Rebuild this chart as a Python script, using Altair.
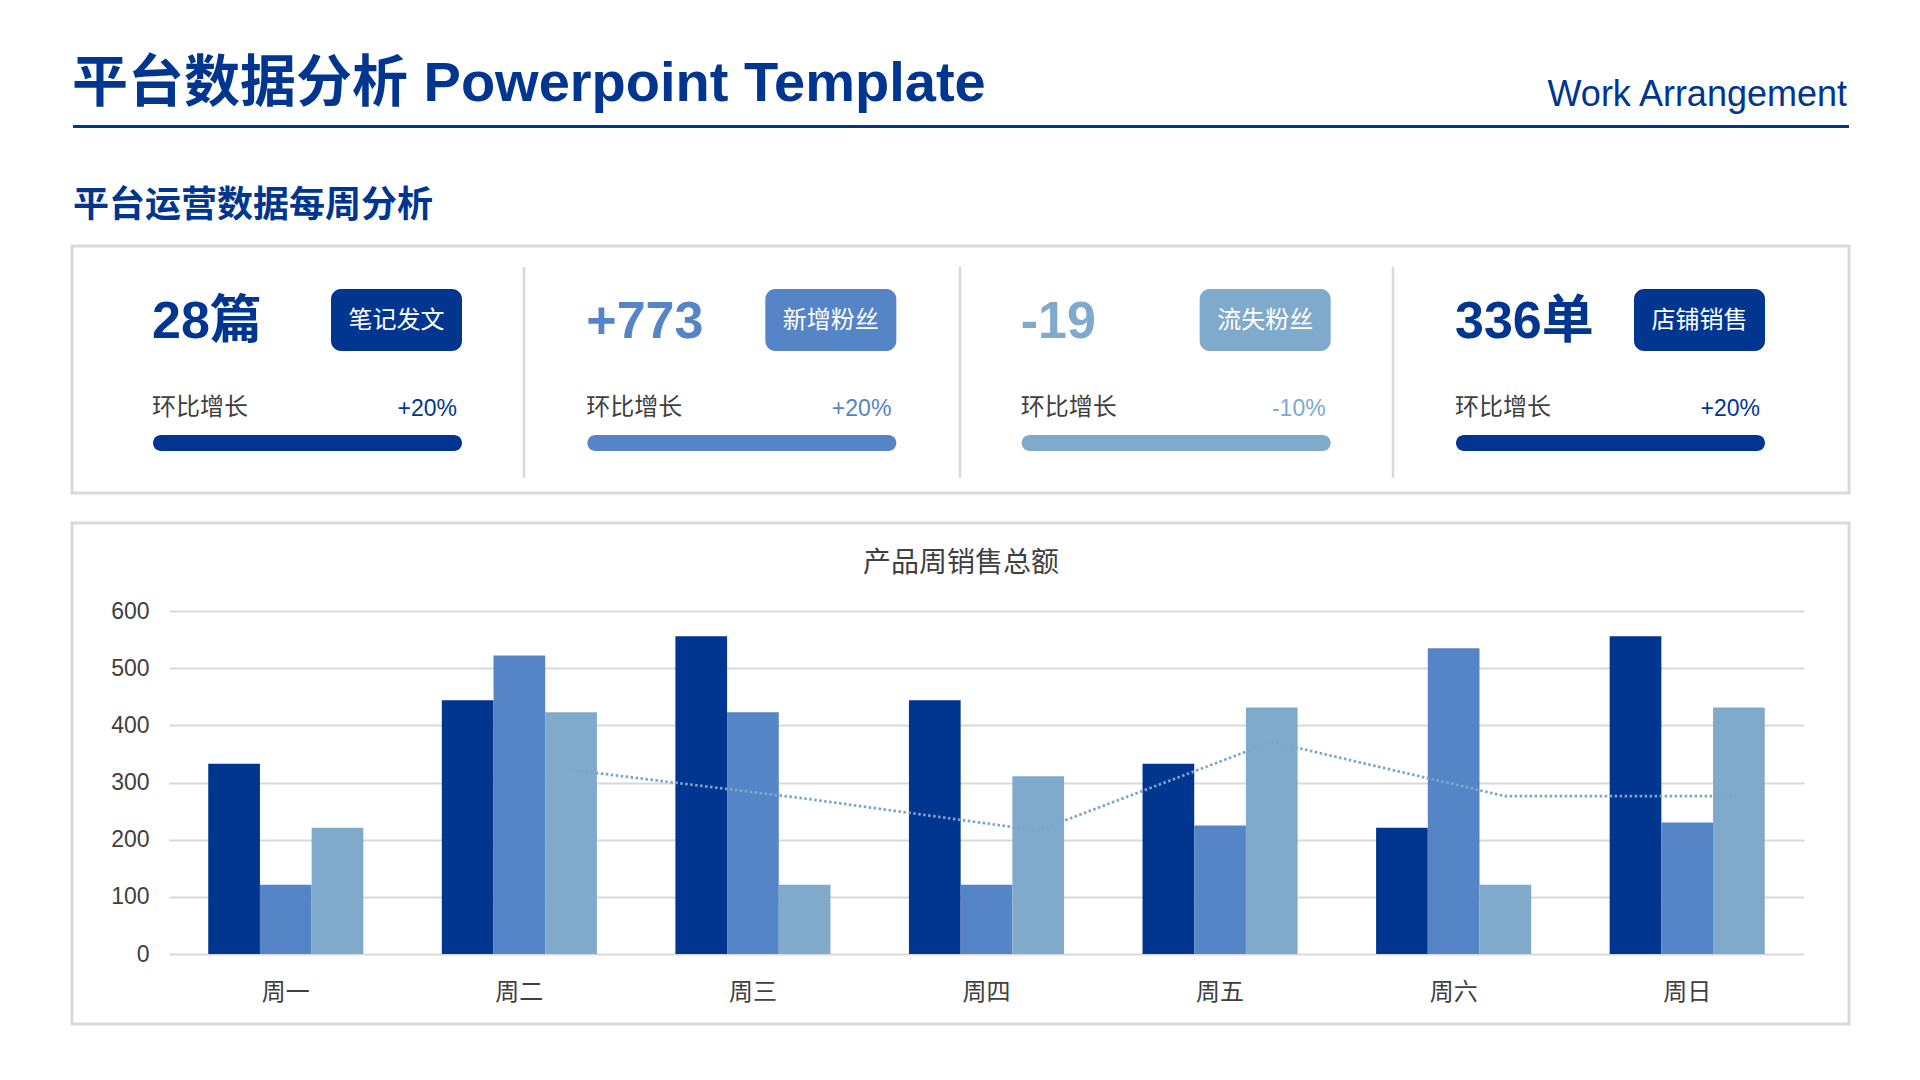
import altair as alt
import pandas as pd

# ---------------- data ----------------
days = ['周一', '周二', '周三', '周四', '周五', '周六', '周日']
series = ['系列1', '系列2', '系列3']
s1 = [333, 444, 556, 444, 333, 221, 556]
s2 = [121, 522, 423, 121, 225, 535, 230]
s3 = [221, 423, 121, 311, 431, 121, 431]
trend = [None, 322, 272, 216, 371, 276, 276]   # dotted trend line
y_ticks = [0, 100, 200, 300, 400, 500, 600]

cards = ['笔记发文', '新增粉丝', '流失粉丝', '店铺销售']
card_values = ['28篇', '+773', '-19', '336单']
card_growth = ['+20%', '+20%', '-10%', '+20%']
growth_label = '环比增长'

title_text = '平台数据分析 Powerpoint Template'
right_text = 'Work Arrangement'
section_text = '平台运营数据每周分析'
chart_title = '产品周销售总额'

# ---------------- styles ----------------
DARK = '#003590'
MID = '#5585C6'
LIGHT = '#80AACC'
GRAY_TXT = '#404040'
GRAY_LINE = '#d9d9d9'
bar_colors = [DARK, MID, LIGHT]
card_colors = [DARK, MID, LIGHT, DARK]
LAT = 'Liberation Sans'
CJK = 'Noto Sans CJK SC'
FONT = 'Liberation Sans, Noto Sans CJK SC'

# plot-area origin in page pixels (page has 8px margin)
OX, OY = 169, 611
PLOT_W, PLOT_H = 1635, 343


def vx(x):
    return alt.value(x - OX)


def vy(y):
    return alt.value(y - OY)


one = alt.Data(values=[{'k': 0}])


def label(text, x, y, size, color, weight='normal', align='left',
          baseline='alphabetic', font=FONT):
    return alt.Chart(one).mark_text(
        text=text, fontSize=size, fontWeight=weight, color=color,
        align=align, baseline=baseline, font=font
    ).encode(x=vx(x), y=vy(y))


def frame(x1, y1, x2, y2):
    return alt.Chart(one).mark_rect(
        fillOpacity=0, stroke=GRAY_LINE, strokeWidth=3
    ).encode(x=vx(x1), x2=vx(x2), y=vy(y1), y2=vy(y2))


def vrule(x, y1, y2, color=GRAY_LINE, width=2.5):
    return alt.Chart(one).mark_rule(color=color, strokeWidth=width).encode(
        x=vx(x), y=vy(y1), y2=vy(y2))


def hrule(x1, x2, y, color, width):
    return alt.Chart(one).mark_rule(color=color, strokeWidth=width).encode(
        x=vx(x1), x2=vx(x2), y=vy(y))


# ---------------- header ----------------
header = [
    label(title_text, 72, 101, 56, DARK, weight='bold'),
    label(right_text, 1847, 106, 36, DARK, align='right'),
    hrule(73, 1849, 126.5, DARK, 3),
    label(section_text, 73, 206, 36, DARK, weight='bold', baseline='middle', font=CJK),
]

# ---------------- KPI cards ----------------
kdf = pd.DataFrame({'card': cards, 'value': card_values, 'growth': card_growth})
xk = alt.X('card:N', scale=alt.Scale(type='point', domain=cards,
                                     range=[152 - OX, 1455 - OX], padding=0),
           axis=None)
ck = alt.Color('card:N', scale=alt.Scale(domain=cards, range=card_colors), legend=None)
kb = alt.Chart(kdf)

k_value = kb.mark_text(align='left', baseline='alphabetic', fontSize=52,
                       fontWeight='bold', font=FONT).encode(
    x=xk, y=vy(338), text='value:N', color=ck)
k_badge = kb.mark_rect(cornerRadius=10, xOffset=179, x2Offset=310).encode(
    x=xk, x2=alt.X2('card'), y=vy(289), y2=vy(351), color=ck)
k_badge_txt = kb.mark_text(align='center', baseline='middle', fontSize=24,
                           color='white', font=CJK, dx=244.5).encode(
    x=xk, y=vy(321), text='card:N')
k_glabel = kb.mark_text(align='left', baseline='middle', fontSize=24,
                        color=GRAY_TXT, font=CJK, text=growth_label).encode(
    x=xk, y=vy(408))
k_growth = kb.mark_text(align='right', baseline='middle', fontSize=23,
                        font=LAT, dx=305).encode(
    x=xk, y=vy(409), text='growth:N', color=ck)
k_prog = kb.mark_rect(cornerRadius=8, xOffset=1, x2Offset=310).encode(
    x=xk, x2=alt.X2('card'), y=vy(435), y2=vy(451), color=ck)

kpi_layer = alt.layer(k_badge, k_prog, k_value, k_badge_txt, k_glabel, k_growth)

kpi_deco = [
    frame(72, 246, 1849, 493),
    vrule(524, 267, 478),
    vrule(960, 267, 478),
    vrule(1393, 267, 478),
]

# ---------------- bar chart ----------------
rows = []
for i, d in enumerate(days):
    for s, vals in zip(series, [s1, s2, s3]):
        rows.append({'day': d, 'series': s, 'value': vals[i]})
df = pd.DataFrame(rows)

tdf = pd.DataFrame({
    'day': [d for d, t in zip(days, trend) if t is not None],
    'value': [t for t in trend if t is not None],
    'idx': [i for i, t in enumerate(trend) if t is not None],
    'series': series[2],
})

xb = alt.X('day:N', sort=days,
           scale=alt.Scale(domain=days, paddingInner=0.336, paddingOuter=0.168),
           axis=alt.Axis(title=None, labelAngle=0, domain=False, ticks=False, grid=False,
                         labelFontSize=24, labelColor=GRAY_TXT, labelFont=CJK,
                         labelPadding=26))
yb = alt.Y('value:Q', scale=alt.Scale(domain=[0, 600], nice=False),
           axis=alt.Axis(title=None, values=y_ticks, domain=False, ticks=False, grid=True,
                         gridColor=GRAY_LINE, gridWidth=2, labelFontSize=23,
                         labelColor=GRAY_TXT, labelFont=LAT, labelPadding=20))
xo = alt.XOffset('series:N', scale=alt.Scale(domain=series, paddingInner=0, paddingOuter=0))

bars = alt.Chart(df).mark_bar().encode(
    x=xb, xOffset=xo, y=yb,
    color=alt.Color('series:N', scale=alt.Scale(domain=series, range=bar_colors), legend=None))
line = alt.Chart(tdf).mark_line(color='#7BA6CC', strokeWidth=2.75, strokeDash=[2.5, 2.5]).encode(
    x=xb, xOffset=xo, y=yb, order=alt.Order('idx:Q'))

bar_layer = alt.layer(bars, line)

bar_deco = [
    frame(72, 523, 1849, 1024),
    label(chart_title, 961, 564, 28, GRAY_TXT, align='center', baseline='middle', font=CJK),
]

chart = alt.layer(
    *header, *kpi_deco, *bar_deco, kpi_layer, bar_layer
).resolve_scale(
    x='independent', color='independent'
).properties(
    width=PLOT_W, height=PLOT_H,
    padding={'left': OX - 8, 'top': OY - 8,
             'right': 1904 - (OX - 8) - PLOT_W,
             'bottom': 1064 - (OY - 8) - PLOT_H},
    autosize=alt.AutoSizeParams(type='none'),
    background='white',
).configure_view(stroke=None)

chart.save('out.html', embed_options={'renderer': 'svg', 'actions': False})
